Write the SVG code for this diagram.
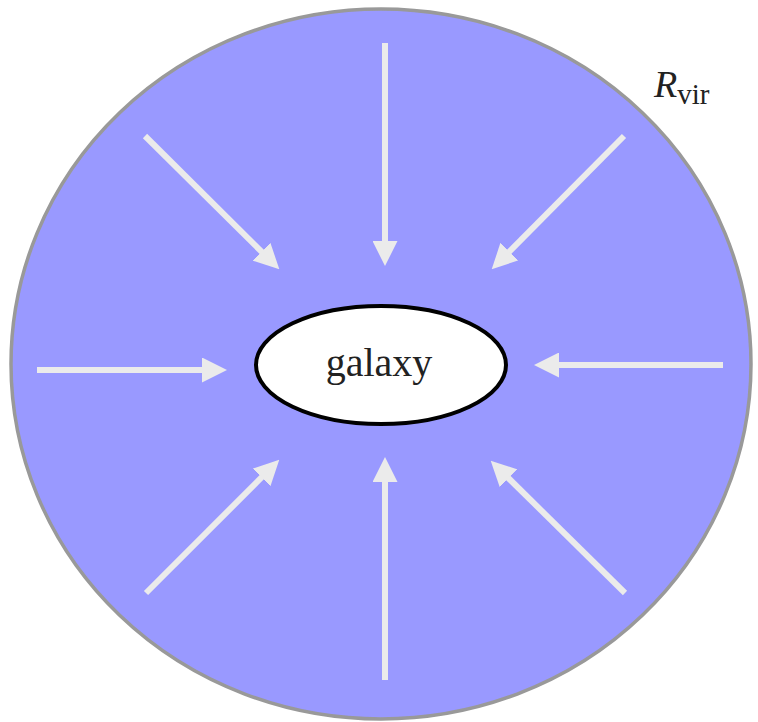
<svg xmlns="http://www.w3.org/2000/svg" width="758" height="722" viewBox="0 0 758 722">
<style>
.arrow{stroke:#ebebeb;stroke-width:6;fill:none;marker-end:url(#head)}
.serif{font-family:"Liberation Serif","Times New Roman",serif;fill:#222}
</style>
<defs>
<marker id="head" viewBox="0 -12.5 25 25" refX="1" refY="0" markerWidth="25" markerHeight="25" markerUnits="userSpaceOnUse" orient="auto">
<path d="M0,-12.5 L25,0 L0,12.5 Z" fill="#ebebeb"/>
</marker>
</defs>
<rect width="758" height="722" fill="#ffffff"/>
<g id="halo">
<ellipse cx="381" cy="364" rx="370" ry="355" fill="#9999ff" stroke="#999999" stroke-width="3.5"/>
</g>
<g id="connectors">
<line class="arrow" x1="385" y1="43" x2="385" y2="242"/>
<line class="arrow" x1="385" y1="680" x2="385" y2="481"/>
<line class="arrow" x1="37" y1="370" x2="203" y2="370"/>
<line class="arrow" x1="723" y1="365" x2="558" y2="365"/>
<line class="arrow" x1="145" y1="136" x2="262.3" y2="252.4"/>
<line class="arrow" x1="624" y1="136" x2="508.6" y2="252.3"/>
<line class="arrow" x1="146" y1="593" x2="262.3" y2="476.7"/>
<line class="arrow" x1="625" y1="593" x2="507.8" y2="477.5"/>
</g>
<g id="galaxy">
<ellipse cx="381" cy="365" rx="125" ry="59" fill="#ffffff" stroke="#000000" stroke-width="4"/>
<text class="serif" x="379" y="376" font-size="40" text-anchor="middle">galaxy</text>
</g>
<g id="rvir-label">
<text class="serif" x="654" y="97" font-size="38"><tspan font-style="italic">R</tspan><tspan font-size="29" dy="7">vir</tspan></text>
</g>
</svg>
